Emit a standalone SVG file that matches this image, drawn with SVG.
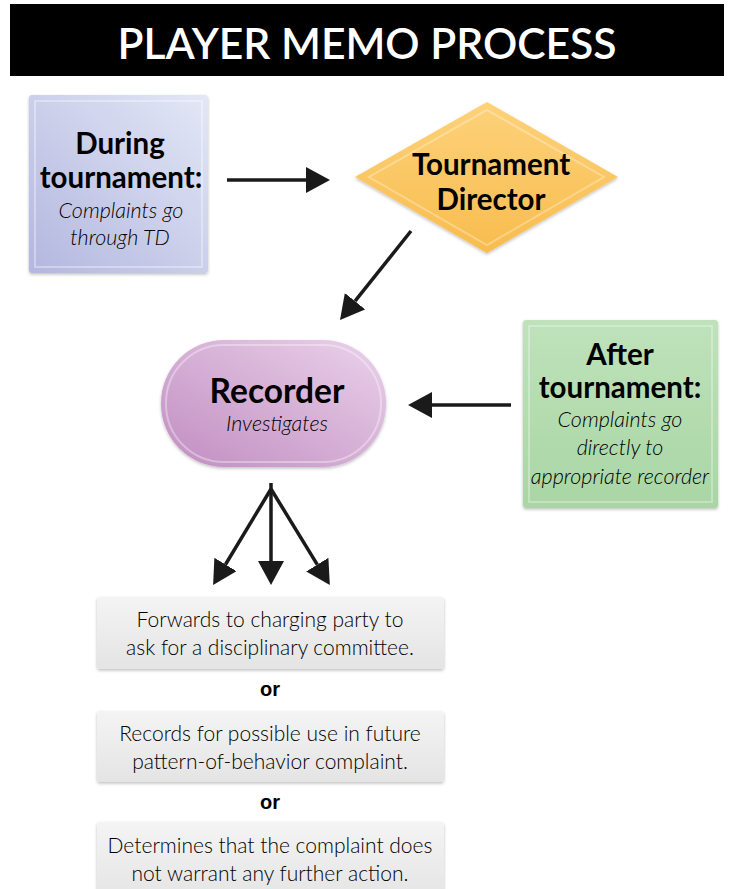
<svg xmlns="http://www.w3.org/2000/svg" width="729" height="889" viewBox="0 0 729 889">
<defs>
<style>
.t{font-family:Lato,"Open Sans","Liberation Sans",sans-serif;fill:#000;text-anchor:middle}
.b{font-weight:bold;font-size:29.5px}
.i{font-style:italic;font-size:21.5px;font-weight:300}
.r{font-size:21px;font-weight:300}
.or{font-family:"Liberation Sans",Arial,sans-serif;font-weight:bold;font-size:20px;fill:#000;text-anchor:middle}
.c{stroke:#1a1a1a;stroke-width:3.5;fill:none}
</style>
<marker id="ah" markerUnits="userSpaceOnUse" markerWidth="24" markerHeight="26" refX="0" refY="13" orient="auto">
<path d="M0,0 L24,13 L0,26 z" fill="#1a1a1a"/>
</marker>
<linearGradient id="gBlue" x1="1" y1="0" x2="0" y2="1">
<stop offset="0" stop-color="#e3e7f6"/><stop offset="1" stop-color="#b3b7df"/>
</linearGradient>
<linearGradient id="gGold" x1="0" y1="0" x2="0" y2="1">
<stop offset="0" stop-color="#fdd27a"/><stop offset="1" stop-color="#f8bc4e"/>
</linearGradient>
<linearGradient id="gPurple" x1="1" y1="0" x2="0" y2="1">
<stop offset="0" stop-color="#ead2ea"/><stop offset="1" stop-color="#c18dc1"/>
</linearGradient>
<linearGradient id="gGreen" x1="0" y1="0" x2="0" y2="1">
<stop offset="0" stop-color="#bfe2bb"/><stop offset="1" stop-color="#a9d6a4"/>
</linearGradient>
<linearGradient id="gGrey" x1="0" y1="0" x2="0" y2="1">
<stop offset="0" stop-color="#f4f4f4"/><stop offset="1" stop-color="#e4e4e4"/>
</linearGradient>
<filter id="sh" x="-10%" y="-10%" width="120%" height="125%">
<feDropShadow dx="0" dy="1.5" stdDeviation="1.5" flood-color="#000" flood-opacity="0.25"/>
</filter>
</defs>
<rect width="729" height="889" fill="#fff"/>

<g id="title">
<rect x="10" y="4" width="714" height="72" fill="#000"/>
<text x="367" y="59" font-family="Lato,'Open Sans',sans-serif" font-size="42" font-weight="600" fill="#fff" text-anchor="middle" textLength="499" lengthAdjust="spacingAndGlyphs">PLAYER MEMO PROCESS</text>
</g>

<g id="during">
<rect x="29" y="95" width="179" height="178" rx="3" fill="url(#gBlue)" filter="url(#sh)"/>
<rect x="35" y="101" width="167" height="166" fill="none" stroke="#ffffff" stroke-opacity="0.35" stroke-width="2"/>
<text class="t b" x="120" y="154">During</text>
<text class="t b" x="121" y="188">tournament:</text>
<text class="t i" x="121" y="218">Complaints go</text>
<text class="t i" x="120" y="245">through TD</text>
</g>

<g id="td">
<polygon points="487,102 618,177 487,253 355,177" fill="url(#gGold)" filter="url(#sh)"/>
<polygon points="487,110 604,177 487,245 369,177" fill="none" stroke="#fff" stroke-opacity="0.3" stroke-width="2"/>
<text class="t b" x="491" y="175">Tournament</text>
<text class="t b" x="491" y="210">Director</text>
</g>

<g id="recorder">
<rect x="161" y="340" width="225" height="127" rx="63" fill="url(#gPurple)" filter="url(#sh)"/>
<rect x="166" y="345" width="215" height="117" rx="58" fill="none" stroke="#fff" stroke-opacity="0.35" stroke-width="2"/>
<text class="t" x="277" y="403" font-weight="bold" font-size="33.5">Recorder</text>
<text class="t i" x="277" y="431">Investigates</text>
</g>

<g id="after">
<rect x="523" y="320" width="195" height="188" rx="3" fill="url(#gGreen)" filter="url(#sh)"/>
<rect x="529" y="326" width="183" height="176" fill="none" stroke="#fff" stroke-opacity="0.3" stroke-width="2"/>
<text class="t b" x="620" y="365">After</text>
<text class="t b" x="620" y="398">tournament:</text>
<text class="t i" x="620" y="427">Complaints go</text>
<text class="t i" x="620" y="455">directly to</text>
<text class="t i" x="620" y="484">appropriate recorder</text>
</g>

<g id="opt1">
<rect x="97" y="597" width="347" height="72" rx="3" fill="url(#gGrey)" filter="url(#sh)"/>
<text class="t r" x="270" y="627">Forwards to charging party to</text>
<text class="t r" x="270" y="655">ask for a disciplinary committee.</text>
</g>
<text class="or" x="270" y="696">or</text>

<g id="opt2">
<rect x="97" y="711" width="347" height="71" rx="3" fill="url(#gGrey)" filter="url(#sh)"/>
<text class="t r" x="270" y="741">Records for possible use in future</text>
<text class="t r" x="270" y="769">pattern-of-behavior complaint.</text>
</g>
<text class="or" x="270" y="809">or</text>

<g id="opt3">
<rect x="97" y="822" width="347" height="80" rx="3" fill="url(#gGrey)" filter="url(#sh)"/>
<text class="t r" x="270" y="853">Determines that the complaint does</text>
<text class="t r" x="270" y="881">not warrant any further action.</text>
</g>

<g id="connectors">
<line class="c" x1="227" y1="180" x2="306" y2="180" marker-end="url(#ah)"/>
<line class="c" x1="411" y1="231" x2="355" y2="301.2" marker-end="url(#ah)"/>
<line class="c" x1="511" y1="405" x2="432" y2="405" marker-end="url(#ah)"/>
<line class="c" x1="271" y1="483" x2="271" y2="561" marker-end="url(#ah)"/>
<line class="c" x1="271" y1="489" x2="225.5" y2="564.5" marker-end="url(#ah)"/>
<line class="c" x1="271" y1="489" x2="317.3" y2="564.6" marker-end="url(#ah)"/>
</g>
</svg>
